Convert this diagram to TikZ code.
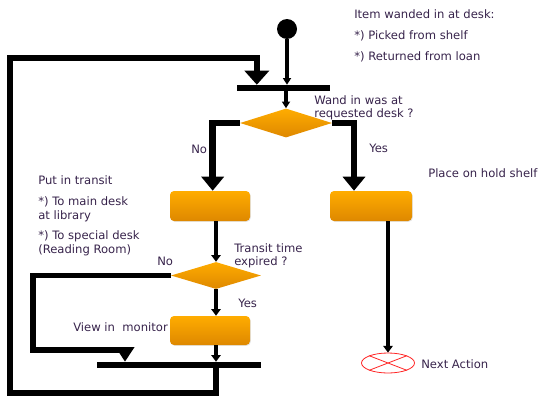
\documentclass[tikz,border=0pt]{standalone}
\usepackage{fontspec}
\setmainfont{DejaVu Sans}
\usetikzlibrary{arrows.meta,shapes.geometric,shadows}
\definecolor{labeltext}{RGB}{55,35,75}
\definecolor{boxtop}{RGB}{255,172,0}
\definecolor{boxbottom}{RGB}{222,136,0}
\begin{document}
\begin{tikzpicture}[x=0.75pt, y=-0.75pt,
  every node/.style={font=\fontsize{8.7}{10}\selectfont, text=labeltext},
  actbox/.style={rectangle, rounded corners=3pt, top color=boxtop, bottom color=boxbottom, minimum width=60pt, minimum height=22.5pt, drop shadow={opacity=0.2, shadow xshift=0.6pt, shadow yshift=-0.6pt}},
  decbox/.style={diamond, inner sep=0pt, top color=boxtop, bottom color=boxbottom},
  syncbar/.style={rectangle, fill=black, inner sep=0pt, minimum height=4.5pt},
  note/.style={anchor=west, inner sep=0pt, align=left},
  thinflow/.style={line width=2.3pt, -{Triangle[width=6pt,length=5pt]}},
  midflow/.style={line width=3.4pt, -{Triangle[width=7pt,length=5pt]}},
  bigflow/.style={line width=5.2pt, -{Triangle[width=16.5pt,length=10.5pt]}},
  loopflow/.style={line width=4.8pt, -{Triangle[width=18pt,length=10.5pt]}}]
\useasboundingbox (0,0) rectangle (538,396);

\node[circle, fill=black, inner sep=0pt, minimum size=15pt] (start) at (287,29) {};
\node[syncbar, minimum width=69.75pt] (join) at (283.5,88) {};
\node[decbox, minimum width=69pt, minimum height=21.75pt] (dec1) at (286,123) {};
\node[actbox] (transit) at (210,206) {};
\node[actbox, minimum width=61.5pt] (hold) at (371,206) {};
\node[decbox, minimum width=67.5pt, minimum height=20.25pt] (dec2) at (216,275.5) {};
\node[actbox, minimum height=21.75pt] (view) at (210,330.5) {};
\node[syncbar, minimum width=123pt] (merge) at (179,365) {};
\node[ellipse, draw=red!85!white, line width=0.6pt, fill=white, inner sep=0pt, minimum width=39.75pt, minimum height=15pt] (final) at (388,363) {};
\draw[red!85!white, line width=0.6pt] (final.north west) -- (final.south east) (final.north east) -- (final.south west);

\node[note, font=\fontsize{8.7}{15.75}\selectfont] (itemnote) at (354,36) {Item wanded in at desk:\\*) Picked from shelf\\*) Returned from loan};
\node[note] (dec1note) at (314,108) {Wand in was at\\requested desk ?};
\node[note] (dec1no) at (191,149) {No};
\node[note] (dec1yes) at (369,148) {Yes};
\node[note] (holdnote) at (428,173) {Place on hold shelf};
\node[note, font=\fontsize{8.7}{10.5}\selectfont] (transitnote) at (38,216) {Put in transit\\[5pt]*) To main desk\\at library\\[5pt]*) To special desk\\(Reading Room)};
\node[note] (dec2note) at (234,255.5) {Transit time\\expired ?};
\node[note] (dec2no) at (157,261) {No};
\node[note] (dec2yes) at (238,303) {Yes};
\node[note] (viewnote) at (73,327) {View in~ monitor};
\node[note] (finalnote) at (421,364) {Next Action};

\coordinate (loopbl) at (10,393);
\coordinate (looptl) at (10,58);
\coordinate (nobend) at (33,350);

\draw[thinflow] (start.south) -- (start.south |- join.north);
\draw[thinflow] (dec1.north |- join.south) -- (dec1.north);
\draw[bigflow] (dec1.west) -| ([xshift=2pt]transit.north);
\draw[bigflow] (dec1.east) -| ([xshift=-12.75pt]hold.north);
\draw[midflow] (dec2.north |- transit.south) -- (dec2.north);
\draw[midflow] (dec2.south) -- (dec2.south |- view.north);
\draw[midflow] (dec2.south |- view.south) -- (dec2.south |- merge.north);
\draw[midflow] (final.north |- hold.south) -- (final.north);
\draw[loopflow, line width=3.8pt, -{Triangle[width=13.5pt,length=11pt]}] (dec2.west) -| (nobend) -| ([xshift=-40.5pt]merge.north);
\draw[loopflow] (dec2.south |- merge.center) |- (loopbl) -- (looptl) -| ([xshift=-20pt]join.north);
\end{tikzpicture}
\end{document}
